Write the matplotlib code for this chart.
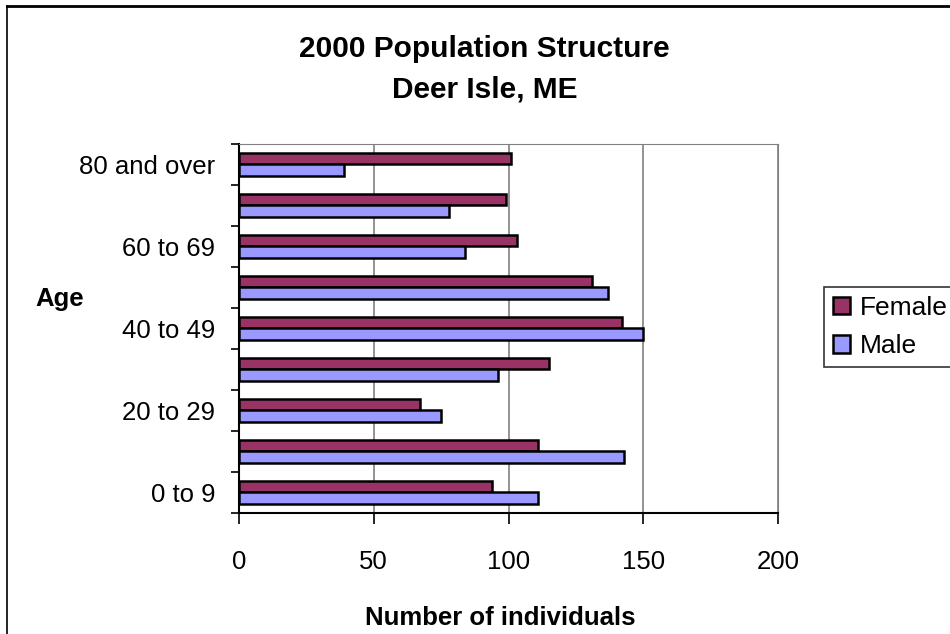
import numpy as np
import matplotlib.pyplot as plt
from matplotlib.lines import Line2D

plt.rcParams['font.family'] = ['Liberation Sans', 'DejaVu Sans']

age_groups = ["0 to 9", "10 to 19", "20 to 29", "30 to 39", "40 to 49",
              "50 to 59", "60 to 69", "70 to 79", "80 and over"]
female = [94, 111, 67, 115, 142, 131, 103, 99, 101]
male = [111, 143, 75, 96, 150, 137, 84, 78, 39]

fig = plt.figure(figsize=(9.5, 6.34), dpi=100)
ax = fig.add_axes([0.2516, 0.1909, 0.5674, 0.5820])

y = np.arange(len(age_groups))
h = 0.286
ax.barh(y + h / 2, female, height=h, color="#993366", edgecolor="black", linewidth=1.8, label="Female", zorder=3)
ax.barh(y - h / 2, male, height=h, color="#9999FF", edgecolor="black", linewidth=1.8, label="Male", zorder=3)

ax.set_xlim(0, 200)
ax.set_ylim(-0.5, len(age_groups) - 0.5)
ax.set_xticks([0, 50, 100, 150, 200])
ax.tick_params(axis='x', direction='out', length=8, width=1.2, labelsize=18.5, pad=19)

# ticks between categories, labels on every other category
ax.set_yticks(np.arange(-0.5, len(age_groups), 1))
ax.set_yticklabels([])
ax.tick_params(axis='y', which='major', direction='out', length=6, width=1.2)
ax.set_yticks(y[::2], minor=True)
ax.set_yticklabels([age_groups[i] for i in y[::2]], minor=True)
ax.tick_params(axis='y', which='minor', length=0, labelsize=18.5, pad=17)

ax.grid(axis='x', color="#808080", linewidth=1.2, zorder=0)
ax.spines['top'].set_color("#808080")
ax.spines['right'].set_color("#808080")
ax.spines['left'].set_linewidth(1.5)
ax.spines['bottom'].set_linewidth(1.5)

fig.text(0.51, 0.910, "2000 Population Structure", ha='center', va='baseline', fontsize=21.5, fontweight='bold')
fig.text(0.51, 0.846, "Deer Isle, ME", ha='center', va='baseline', fontsize=21.5, fontweight='bold')
fig.text(0.527, 0.0142, "Number of individuals", ha='center', va='baseline', fontsize=18.5, fontweight='bold')
fig.text(0.0626, 0.5174, "Age", ha='center', va='baseline', fontsize=18.5, fontweight='bold')

leg = fig.legend(loc='upper left', bbox_to_anchor=(824 / 950, 1 - 287 / 634), fontsize=19,
                 frameon=True, fancybox=False, handlelength=0.64, handleheight=0.64,
                 handletextpad=0.38, borderpad=0.34, labelspacing=0.55, borderaxespad=0)
leg.get_frame().set_edgecolor("black")
leg.get_frame().set_linewidth(1.2)

# chart frame (top and left edges fall inside the image)
fig.add_artist(Line2D([7 / 950, 1], [1 - 6 / 634, 1 - 6 / 634], transform=fig.transFigure, color="black", linewidth=2))
fig.add_artist(Line2D([7 / 950, 7 / 950], [0, 1 - 6 / 634], transform=fig.transFigure, color="black", linewidth=1.2))

fig.savefig("out.png", dpi=100)
